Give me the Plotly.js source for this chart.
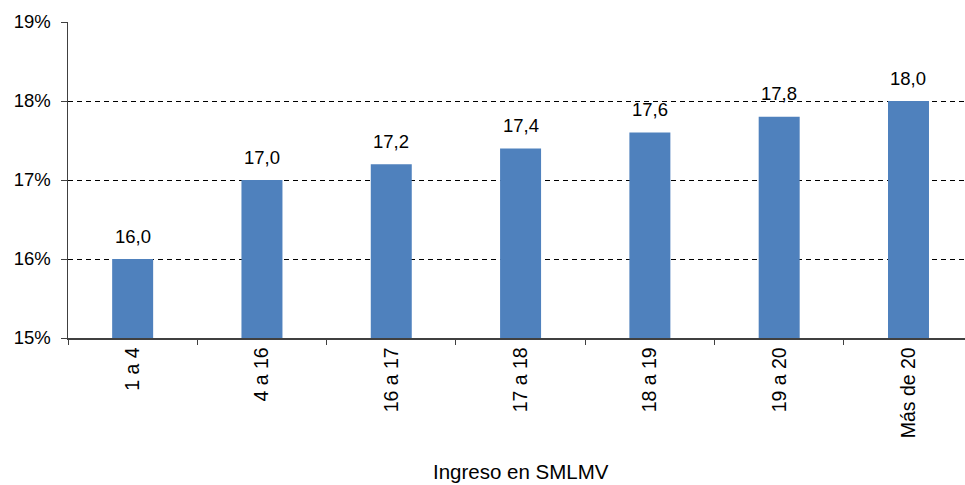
<!DOCTYPE html>
<html>
<head>
<meta charset="utf-8">
<script src="https://cdn.plot.ly/plotly-3.0.1.min.js"></script>
<style>html,body{margin:0;padding:0;background:#fff;}#chart{width:965px;height:485px;}</style>
</head>
<body>
<div id="chart"></div>
<script>
const categories = ["1 a 4", "4 a 16", "16 a 17", "17 a 18", "18 a 19", "19 a 20", "Más de 20"];
const values = [16.0, 17.0, 17.2, 17.4, 17.6, 17.8, 18.0];
const yTickValues = [15, 16, 17, 18, 19];
const xTitle = "Ingreso en SMLMV";

const FONT = "Liberation Sans, Arial, sans-serif";
const BASE = 15;

const trace = {
  type: "bar",
  x: categories,
  y: values.map(v => v - BASE),
  base: BASE,
  width: 0.317,
  marker: {color: "#4F81BD", line: {width: 0}},
  hoverinfo: "skip"
};

const labelAnnotations = categories.map((c, i) => ({
  x: c, y: values[i], xref: "x", yref: "y",
  text: values[i].toFixed(1).replace(".", ","),
  showarrow: false, yanchor: "middle", yshift: 23,
  font: {family: FONT, size: 18.5, color: "#000"}
}));

const layout = {
  width: 965, height: 485,
  margin: {l: 68, r: 0, t: 22, b: 147, pad: 0},
  paper_bgcolor: "#fff", plot_bgcolor: "#fff",
  showlegend: false,
  font: {family: FONT, size: 18, color: "#000"},
  xaxis: {
    type: "category",
    range: [-0.5, 6.437],
    tickangle: -90,
    ticks: "outside", ticklen: 5, tickcolor: "#404040", tickwidth: 1,
    tickson: "boundaries",
    showline: true, linecolor: "#404040", linewidth: 1.5,
    showgrid: false, zeroline: false,
    tickfont: {family: FONT, size: 19.5, color: "#000"},
    fixedrange: true
  },
  yaxis: {
    range: [15, 19],
    tickvals: yTickValues,
    ticktext: yTickValues.map(v => v + "%"),
    ticks: "outside", ticklen: 6, tickcolor: "#404040", tickwidth: 1,
    showline: true, linecolor: "#404040", linewidth: 1.5,
    showgrid: true, gridcolor: "#000", gridwidth: 1, griddash: "5px,4px",
    zeroline: false,
    tickfont: {family: FONT, size: 18.5, color: "#000"},
    ticklabelstandoff: 6,
    fixedrange: true
  },
  annotations: labelAnnotations.concat([{
    xref: "paper", yref: "paper", x: 0.505, y: -0.424,
    xanchor: "center", yanchor: "middle",
    text: xTitle, showarrow: false,
    font: {family: FONT, size: 20.5, color: "#000"}
  }])
};

Plotly.newPlot("chart", [trace], layout, {displayModeBar: false, staticPlot: true});
</script>
</body>
</html>
